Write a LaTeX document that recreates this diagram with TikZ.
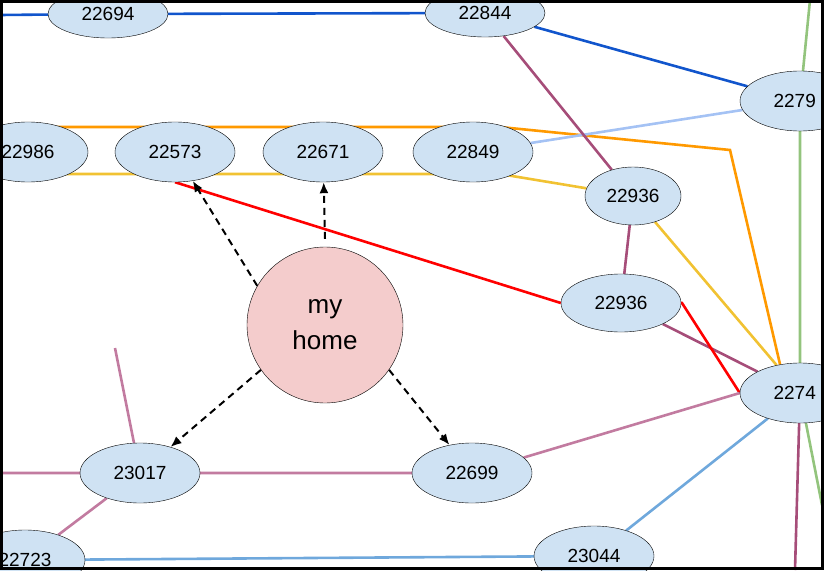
\documentclass[tikz,border=0pt]{standalone}
\usepackage{fontspec}
\setmainfont{Liberation Sans}
\usetikzlibrary{shapes.geometric,backgrounds,arrows.meta}
\definecolor{stopfill}{HTML}{CFE2F3}
\definecolor{homefill}{HTML}{F4CCCC}
\definecolor{lnblue}{HTML}{1155CC}
\definecolor{lnpurple}{HTML}{A64D79}
\definecolor{lnorange}{HTML}{FF9900}
\definecolor{lnyellow}{HTML}{F1C232}
\definecolor{lnsky}{HTML}{A4C2F4}
\definecolor{lngreen}{HTML}{93C47D}
\definecolor{lnpink}{HTML}{C27BA0}
\definecolor{lnmid}{HTML}{6FA8DC}
\begin{document}
\begin{tikzpicture}[x=1pt,y=-1pt,
  stop/.style={ellipse,draw,fill=stopfill,minimum width=120pt,minimum height=60pt,inner sep=0pt,font=\fontsize{19}{22}\selectfont},
  route/.style={line width=2.6pt},
  walk/.style={line width=2pt,dashed,dash pattern=on 7pt off 5pt,-{Latex[length=11pt,width=9pt]}}]
\useasboundingbox (0,0) rectangle (824,570);
\begin{scope}
\clip (0,0) rectangle (824,570);
% stops
\node[stop,minimum height=48pt] (s22694) at (108,14) {22694};
\node[stop,minimum height=48pt] (s22844) at (485,13) {22844};
\node[stop] (s2279) at (800,101) {2279\phantom{0}};
\node[stop] (s22986) at (28,152) {22986};
\node[stop] (s22573) at (175,152) {22573};
\node[stop] (s22671) at (323,152) {22671};
\node[stop] (s22849) at (473,152) {22849};
\node[stop,minimum width=96pt,minimum height=58pt] (s22936a) at (633,196) {22936};
\node[stop,minimum width=120pt,minimum height=58pt] (s22936b) at (621,303) {22936};
\node[stop] (s2274) at (800,393) {2274\phantom{0}};
\node[stop] (s23017) at (140,473) {23017};
\node[stop] (s22699) at (472,473) {22699};
\node[stop] (s22723) at (25,560) {22723};
\node[stop] (s23044) at (594,556) {23044};
\node[circle,draw,fill=homefill,minimum size=156pt,align=center,font=\fontsize{26}{36}\selectfont] (home) at (325,325) {my\\home};
\coordinate (eW) at (0,15);
\coordinate (gN) at (810,0);
\coordinate (gS) at (822,505);
\coordinate (pS) at (795,570);
\coordinate (kN) at (115,348);
\coordinate (kW) at (0,473);
\coordinate (oW) at (0,127);
\coordinate (oM) at (500,127);
\coordinate (oE) at (730,150);
\coordinate (yW) at (0,174);
\coordinate (yM) at (500,174);
\coordinate (rE) at (682,303);
% routes
\begin{scope}[on background layer]
\draw[route,lnblue] (eW) -- (s22694) -- (s22844) -- (s2279);
\draw[route,lnorange] (oW) -- (oM) -- (oE) -- (s2274.125);
\draw[route,lnyellow] (yW) -- (yM) -- (s22936a) -- (s2274.130);
\draw[route,lnsky] (s22849) -- (s2279);
\draw[route,lngreen] (gN) -- (s2279) -- (s2274) -- (gS);
\draw[route,lnpurple] (s22844) -- (s22936a) -- (s22936b) -- (s2274) -- (pS);
\draw[route,red] (s22573.south) -- (s22936b.west);
\draw[route,red] (s22936b.east) -- (rE) -- (s2274.west);
\draw[route,lnpink] (kN) -- (s23017) -- (s22723);
\draw[route,lnpink] (kW) -- (s23017) -- (s22699) -- (s2274.west);
\draw[route,lnmid] (s22723) -- (s23044) -- (s2274);
\end{scope}
% walking
\draw[walk] (home.150) -- (s22573);
\draw[walk] (home.north) ++(0,-8) -- (s22671);
\draw[walk] (home.215) -- (s23017);
\draw[walk] (home.325) -- (s22699);
\end{scope}
\draw[line width=3pt] (1.5,1.5) rectangle (822.5,568.5);
\end{tikzpicture}
\end{document}
